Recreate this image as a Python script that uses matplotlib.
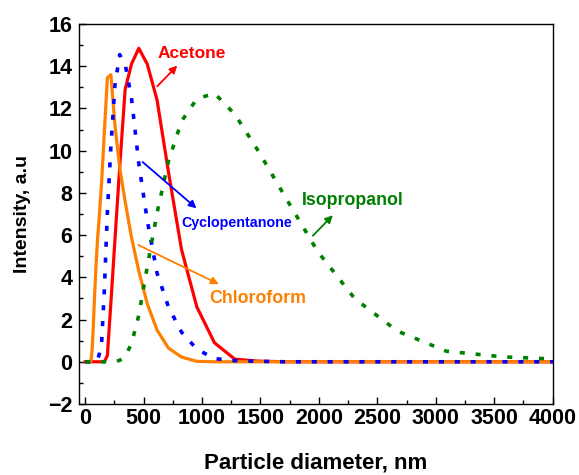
import matplotlib
matplotlib.use("Agg")
import matplotlib.pyplot as plt
from matplotlib.ticker import MultipleLocator

# Particle size bins (nm)
diam = [0.4, 43.82, 50.75, 58.77, 68.06, 78.82, 91.28, 105.7, 122.4, 141.8, 164.2,
        190.1, 220.2, 255.0, 295.3, 342.0, 396.1, 458.7, 531.2, 615.1, 712.4,
        825.0, 955.4, 1106, 1281, 1484, 1718, 1990, 2305, 2669, 3091, 3580, 4145]

acetone = [0, 0, 0, 0, 0, 0, 0, 0, 0, 0, 0,
           0.3, 2.8, 5.8, 9.2, 12.9, 14.1, 14.85, 14.1, 12.4, 9.0,
           5.3, 2.6, 0.9, 0.12, 0.03, 0, 0, 0, 0, 0, 0, 0]

chloroform = [None, 0, 0.1, 0.5, 1.5, 2.9, 4.4, 5.8, 7.0, 8.6, 10.9,
              13.45, 13.6, 11.2, 9.2, 7.6, 5.9, 4.3, 2.75, 1.5, 0.65,
              0.22, 0.02, 0, 0, 0, 0, 0, 0, 0, 0, 0, 0]

cyclopentanone = [0, 0, 0, 0, 0, 0, 0, 0.05, 0.4, 1.0, 3.4,
                  7.1, 10.2, 13.1, 14.55, 14.1, 12.5, 9.4, 6.7, 4.2, 2.6,
                  1.4, 0.6, 0.15, 0.05, 0.02, 0, 0, 0, 0, 0, 0, 0]

isopropanol = [0, 0, 0, 0, 0, 0, 0, 0, 0, 0, 0,
               0, 0, 0, 0.07, 0.25, 0.85, 2.2, 4.5, 7.05, 9.5,
               11.4, 12.45, 12.72, 11.72, 9.96, 7.75, 5.22, 3.0, 1.46, 0.5, 0.23, 0.1]

xticks = [0, 500, 1000, 1500, 2000, 2500, 3000, 3500, 4000]
yticks = [-2, 0, 2, 4, 6, 8, 10, 12, 14, 16]

plt.rcParams['font.family'] = ['Liberation Sans', 'DejaVu Sans']
plt.rcParams['font.weight'] = 'bold'

fig = plt.figure(figsize=(5.79, 4.75), dpi=100)
ax = fig.add_axes([0.137, 0.1495, 0.8175, 0.8])

RED = '#ff0000'
ORANGE = '#ff8000'
BLUE = '#0000ff'
GREEN = '#008000'

ax.plot(diam, acetone, color=RED, lw=2.3, zorder=2)
cx = [d for d, v in zip(diam, chloroform) if v is not None]
cy = [v for v in chloroform if v is not None]
ax.plot(cx, cy, color=ORANGE, lw=2.3, zorder=3)
ax.plot(diam, cyclopentanone, color=BLUE, lw=2.6, dashes=(1.4, 3.0),
        dash_capstyle='butt', zorder=4)
ax.plot(diam, isopropanol, color=GREEN, lw=2.6, dashes=(1.4, 3.0),
        dash_capstyle='butt', zorder=5)

ax.set_xlim(-50, 4000)
ax.set_ylim(-2, 16)
ax.set_xticks(xticks)
ax.set_yticks(yticks)
ax.xaxis.set_minor_locator(MultipleLocator(250))
ax.yaxis.set_minor_locator(MultipleLocator(1))
ax.tick_params(which='both', direction='in', top=False, right=False, width=1.0)
ax.tick_params(which='major', length=5)
ax.tick_params(which='minor', length=3)
ax.tick_params(axis='x', labelsize=15.5, pad=3)
ax.tick_params(axis='y', labelsize=15.5, pad=5)
for lab in ax.get_xticklabels() + ax.get_yticklabels():
    lab.set_fontweight('bold')
for sp in ax.spines.values():
    sp.set_linewidth(1.0)

ax.set_xlabel('Particle diameter, nm', fontsize=16, fontweight='bold', labelpad=17)
ax.set_ylabel('Intensity, a.u', fontsize=14, fontweight='bold', labelpad=12)

def label(text, color, xy_text, tail, head, size):
    ax.text(xy_text[0], xy_text[1], text, color=color, fontsize=size,
            fontweight='bold', ha='center', va='center', zorder=6)
    ax.annotate('', xy=head, xytext=tail,
                arrowprops=dict(arrowstyle='-|>', color=color, lw=1.3,
                                mutation_scale=11, shrinkA=0, shrinkB=0),
                zorder=6)

label('Acetone', RED, (913, 14.6), (617, 13.05), (788, 14.03), 12.5)
label('Cyclopentanone', BLUE, (1301, 6.59), (492, 9.46), (953, 7.27), 10.3)
label('Chloroform', ORANGE, (1476, 3.02), (455, 5.53), (1143, 3.68), 12.8)
label('Isopropanol', GREEN, (2287, 7.63), (1948, 5.97), (2119, 6.94), 12.8)

fig.savefig('out.png', dpi=100)
